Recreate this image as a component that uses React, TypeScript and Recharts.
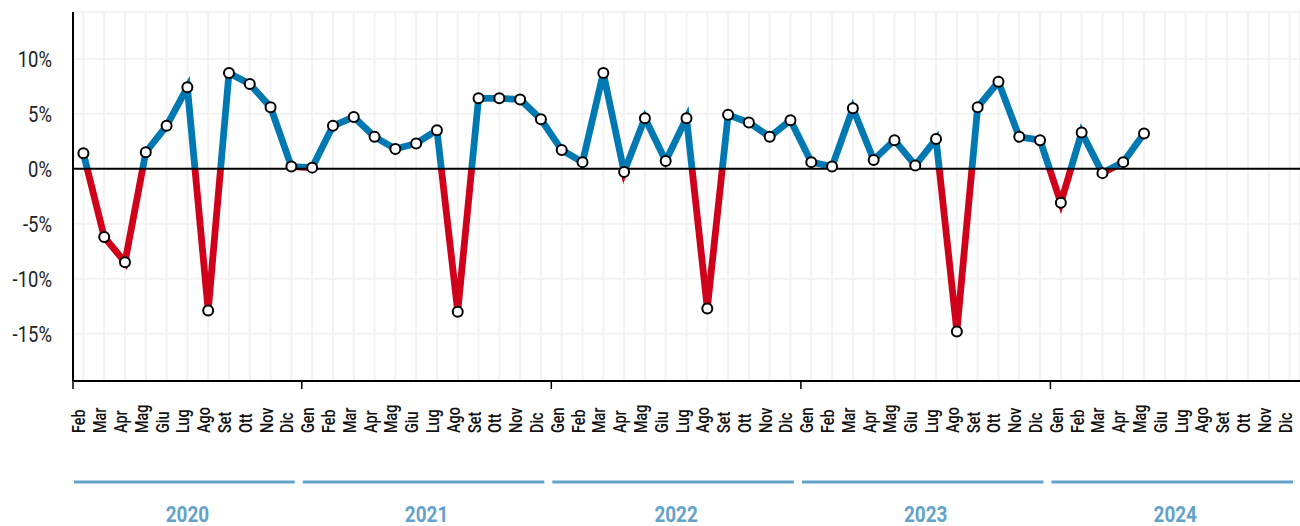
import React from 'react';
import { LineChart, Line, XAxis, YAxis, CartesianGrid, ReferenceLine } from 'recharts';

const years = [2020, 2021, 2022, 2023, 2024];
const monthNames = ['Gen', 'Feb', 'Mar', 'Apr', 'Mag', 'Giu', 'Lug', 'Ago', 'Set', 'Ott', 'Nov', 'Dic'];

// monthly change, % (null = not yet published)
const values2020 = [1.4, -6.2, -8.5, 1.5, 3.9, 7.4, -12.9, 8.7, 7.7, 5.6, 0.2]; // from Feb
const values2021 = [0.1, 3.9, 4.7, 2.9, 1.8, 2.3, 3.5, -13.0, 6.4, 6.4, 6.3, 4.5];
const values2022 = [1.7, 0.6, 8.7, -0.3, 4.6, 0.7, 4.6, -12.7, 4.9, 4.2, 2.9, 4.4];
const values2023 = [0.6, 0.2, 5.5, 0.8, 2.6, 0.3, 2.7, -14.8, 5.6, 7.9, 2.9, 2.6];
const values2024 = [-3.1, 3.3, -0.4, 0.6, 3.2, null, null, null, null, null, null, null];

const yTicks = [-15, -10, -5, 0, 5, 10];
const yDomain = [-19.3, 14.25];

const valuesByYear = [values2020, values2021, values2022, values2023, values2024];

const data = years.flatMap((yr, i) => {
  const vals = valuesByYear[i];
  const start = 12 - vals.length;
  return vals.map((v, j) => ({ key: `${yr}-${monthNames[start + j]}`, year: yr, month: monthNames[start + j], value: v }));
});

const W = 1300;
const H = 526;
const TOP = 12;
const Y_W = 73;
const X_H = 145;
const PLOT_H = H - TOP - X_H;
const BW = (W - Y_W) / data.length;

const BLUE = '#0079b3';
const RED = '#d0021b';
const YEAR_COL = '#62a2c9';
const FONT = "Roboto, 'Liberation Sans', sans-serif";
const CONDENSE = 0.84; // the original uses a condensed face

const zeroOffset = yDomain[1] / (yDomain[1] - yDomain[0]);

const MonthTick = (props: any) => {
  const { x, index } = props;
  const d = data[index];
  const axisY = TOP + PLOT_H;
  const left = x - BW / 2;
  const isStart = index === 0 || d.month === 'Gen';
  const n = data.filter(r => r.year === d.year).length;
  return (
    <g>
      <text
        transform={`translate(${x + 2},${axisY + 52}) rotate(-90) scale(0.8,1)`}
        textAnchor="start"
        fontSize={18}
        fontWeight={500}
        fontFamily={FONT}
        fill="#111"
      >
        {d.month}
      </text>
      {isStart && (
        <g>
          <line x1={left} x2={left} y1={axisY} y2={axisY + 8} stroke="#000" strokeWidth={1.5} />
          <line x1={left + 1} x2={left + n * BW - 7} y1={axisY + 101} y2={axisY + 101} stroke={YEAR_COL} strokeWidth={3} />
          <text
            transform={`translate(${left + (n * BW) / 2},${axisY + 141}) scale(0.86,1)`}
            textAnchor="middle"
            fontSize={22}
            fontWeight="bold"
            fontFamily={FONT}
            fill={YEAR_COL}
          >
            {d.year}
          </text>
        </g>
      )}
    </g>
  );
};

const PctTick = (props: any) => {
  const { x, y, payload } = props;
  return (
    <text
      transform={`translate(${x},${y}) scale(${CONDENSE},1)`}
      textAnchor="end"
      dy="0.355em"
      fontSize={22}
      fontFamily={FONT}
      fill="#222"
    >
      {`${payload.value}%`}
    </text>
  );
};

export default function App() {
  return (
    <div style={{ position: 'absolute', left: 0, top: 0, width: W, height: H, background: '#fff' }}>
      <LineChart width={W} height={H} data={data} margin={{ top: TOP, right: 0, left: 0, bottom: 0 }}>
        <defs>
          <linearGradient id="posneg" gradientUnits="userSpaceOnUse" x1={0} y1={TOP} x2={0} y2={TOP + PLOT_H}>
            <stop offset={0} stopColor={BLUE} />
            <stop offset={zeroOffset} stopColor={BLUE} />
            <stop offset={zeroOffset} stopColor={RED} />
            <stop offset={1} stopColor={RED} />
          </linearGradient>
        </defs>
        <CartesianGrid stroke="#f2f2f2" strokeWidth={2} />
        <XAxis
          dataKey="key"
          interval={0}
          height={X_H}
          padding={{ left: BW / 2, right: BW / 2 }}
          tickLine={false}
          axisLine={{ stroke: '#000', strokeWidth: 2 }}
          tick={<MonthTick />}
        />
        <YAxis
          type="number"
          domain={yDomain}
          ticks={yTicks}
          width={Y_W}
          allowDataOverflow
          tickLine={false}
          tickSize={0}
          tickMargin={21}
          axisLine={{ stroke: '#000', strokeWidth: 2 }}
          tick={<PctTick />}
        />
        <Line
          dataKey="value"
          stroke="url(#posneg)"
          strokeWidth={6.8}
          dot={false}
          activeDot={false}
          isAnimationActive={false}
        />
        <ReferenceLine y={0} stroke="#000" strokeWidth={2} />
        <Line
          dataKey="value"
          stroke="none"
          dot={{ r: 5, fill: '#fff', stroke: '#000', strokeWidth: 2 }}
          activeDot={false}
          isAnimationActive={false}
        />
      </LineChart>
    </div>
  );
}
